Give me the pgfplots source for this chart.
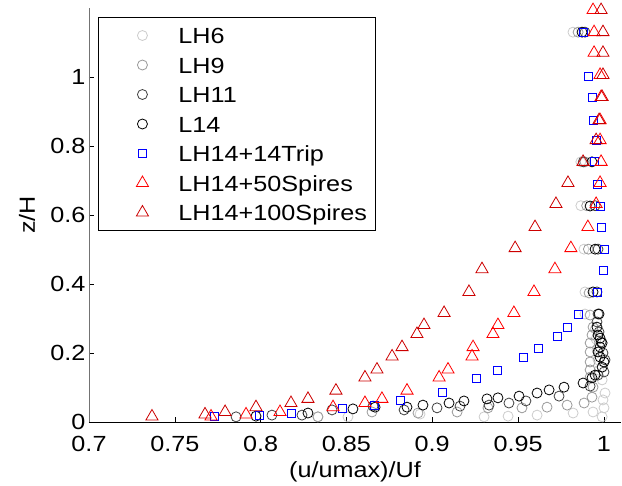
\documentclass[border=0pt]{standalone}
\usepackage{fontspec}
\setmainfont{Liberation Sans}[FakeStretch=1.15]
\usepackage{pgfplots}
\pgfplotsset{compat=1.18}
\definecolor{clhsix}{gray}{0.8}
\definecolor{clhnine}{gray}{0.6}
\definecolor{clheleven}{gray}{0.25}
\definecolor{cdarkred}{rgb}{0.8,0,0}
\pgfplotsset{myleg/.style={legend image code/.code={\path[draw=none] (0bp,0bp) -- (72bp,0bp); \draw[##1] plot coordinates {(36bp,0bp)};}}}

\begin{document}
\begin{tikzpicture}
\begin{axis}[
 scale only axis, width=532bp, height=414bp,
 xmin=0.7, xmax=1.01, ymin=0, ymax=1.2,
 axis x line*=bottom, axis y line*=left,
 x axis line style={black,line width=0.8bp},
 y axis line style={black!55,line width=0.8bp},
 xtick={0.7,0.75,0.8,0.85,0.9,0.95,1},
 ytick={0,0.2,0.4,0.6,0.8,1},
 tick align=inside, major tick length=5bp,
 tick style={black,line width=0.6bp},
 font=\fontsize{22}{26}\selectfont,
 /pgf/number format/assume math mode=true,
 xticklabel style={yshift=-11bp},
 xlabel={(u/umax)/Uf}, ylabel={z/H},
 xlabel style={at={(axis description cs:0.5,-0.12)}, anchor=center},
 ylabel style={at={(axis description cs:-0.1165,0.5)}, anchor=center},
 clip=false,
 legend style={at={(0.017,0.978)}, anchor=north west, draw=black, line width=0.8bp,
   font=\fontsize{22}{26}\selectfont, row sep=5.5bp, inner xsep=8bp, inner ysep=6bp,
   nodes={inner sep=0bp, text height=20bp, text depth=4bp}},
 legend cell align=left,
]
% LH6
\addplot[only marks, myleg, mark=o, mark size=5bp, clhsix, line width=0.8bp] coordinates {
(0.8334,0.015) (0.8509,0.015) (0.8929,0.023) (0.9302,0.015) (0.9442,0.017)
(0.9611,0.020) (0.9821,0.026) (0.9937,0.029) (0.9990,0.015) (1.0001,0.041)
(0.9995,0.064) (1.0007,0.084) (0.9990,0.122) (0.9972,0.150) (0.9966,0.180)
(0.9960,0.210) (0.9955,0.240) (0.9950,0.270) (0.9890,0.313) (0.9890,0.377)
(0.9884,0.501) (0.9866,0.627) (0.9866,0.754) (0.9820,1.130)};
\addlegendentry{LH6}
% LH9
\addplot[only marks, myleg, mark=o, mark size=5bp, clhnine, line width=0.8bp] coordinates {
(0.8334,0.015) (0.8649,0.029) (0.8917,0.026) (0.9145,0.029) (0.9325,0.041)
(0.9523,0.041) (0.9669,0.043) (0.9786,0.049) (0.9885,0.055) (0.9931,0.072)
(0.9937,0.101) (0.9920,0.130) (0.9920,0.151) (0.9920,0.174) (0.9920,0.203)
(0.9920,0.229) (0.9931,0.252) (0.9937,0.275) (0.9920,0.310) (0.9914,0.374)
(0.9910,0.501) (0.9900,0.627) (0.9890,0.754) (0.9850,1.130)};
\addlegendentry{LH9}
% LH11
\addplot[only marks, myleg, mark=o, mark size=5bp, clheleven, line width=0.8bp] coordinates {
(0.7857,0.015) (0.8066,0.020) (0.8241,0.020) (0.8416,0.035) (0.8655,0.046)
(0.8836,0.035) (0.9028,0.041) (0.9162,0.046) (0.9331,0.049) (0.9447,0.055)
(0.9546,0.061) (0.9739,0.075) (0.9920,0.104) (0.9966,0.136) (1.0001,0.145)
(1.0007,0.180) (0.9995,0.200) (0.9984,0.232) (0.9972,0.261) (0.9960,0.290)
(0.9966,0.313) (0.9960,0.377) (0.9966,0.501) (0.9949,0.627) (0.9880,0.754)
(0.9890,1.130)};
\addlegendentry{LH11}
% L14
\addplot[only marks, myleg, mark=o, mark size=5bp, black, line width=0.8bp] coordinates {
(0.7973,0.017) (0.8276,0.026) (0.8538,0.038) (0.8667,0.043) (0.8853,0.043)
(0.8946,0.049) (0.9098,0.055) (0.9185,0.061) (0.9319,0.067) (0.9383,0.070)
(0.9506,0.075) (0.9611,0.084) (0.9681,0.093) (0.9768,0.101) (0.9879,0.113)
(0.9931,0.128) (0.9949,0.136) (0.9990,0.159) (1.0001,0.174) (0.9978,0.188)
(0.9966,0.203) (0.9978,0.217) (0.9990,0.229) (0.9978,0.243) (0.9966,0.252)
(0.9960,0.275) (0.9972,0.313) (0.9937,0.377) (0.9949,0.501) (0.9920,0.626)
(0.9931,0.754) (0.9873,1.130)};
\addlegendentry{L14}
% LH14+14Trip
\addplot[only marks, myleg, mark=square, mark size=4bp, blue, line width=0.8bp] coordinates {
(0.7728,0.015) (0.7991,0.020) (0.8177,0.026) (0.8474,0.038) (0.8661,0.049)
(0.8812,0.064) (0.9057,0.087) (0.9255,0.125) (0.9378,0.151) (0.9529,0.188)
(0.9617,0.214) (0.9727,0.249) (0.9786,0.275) (0.9850,0.313) (0.9960,0.377)
(0.9995,0.438) (1.0001,0.501) (0.9984,0.565) (0.9978,0.626) (0.9960,0.690)
(0.9943,0.754) (0.9955,0.817) (0.9937,0.875) (0.9931,0.942) (0.9908,1.003)
(0.9879,1.130)};
\addlegendentry{LH14+14Trip}
% LH14+50Spires
\addplot[only marks, myleg, mark=triangle, mark size=7bp, red, line width=0.8bp] coordinates {
(0.7711,0.016) (0.7915,0.022) (0.8113,0.029) (0.8422,0.043) (0.8608,0.055)
(0.8707,0.067) (0.8853,0.091) (0.9040,0.129) (0.9092,0.152) (0.9232,0.190)
(0.9238,0.217) (0.9354,0.255) (0.9383,0.281) (0.9476,0.316) (0.9593,0.377)
(0.9715,0.443) (0.9808,0.504) (0.9907,0.565) (0.9955,0.632) (0.9978,0.693)
(0.9984,0.754) (0.9978,0.817) (0.9978,0.875) (0.9984,0.942) (0.9978,1.006)
(0.9943,1.070) (0.9943,1.130) (0.9937,1.194)};
\addlegendentry{LH14+50Spires}
% LH14+100Spires
\addplot[only marks, myleg, mark=triangle, mark size=7bp, cdarkred, line width=0.8bp] coordinates {
(0.7367,0.016) (0.7676,0.022) (0.7793,0.029) (0.7973,0.043) (0.8177,0.055)
(0.8276,0.067) (0.8439,0.091) (0.8608,0.129) (0.8678,0.152) (0.8766,0.190)
(0.8824,0.217) (0.8911,0.255) (0.8952,0.281) (0.9069,0.316) (0.9214,0.377)
(0.9290,0.443) (0.9483,0.504) (0.9599,0.565) (0.9721,0.632) (0.9791,0.693)
(0.9879,0.754) (0.9955,0.817) (0.9972,0.875) (0.9990,0.942) (0.9995,1.006)
(0.9995,1.070) (0.9995,1.130) (0.9984,1.194)};
\addlegendentry{LH14+100Spires}
\end{axis}
\path (current axis.south west) ++(-89bp,-64bp) rectangle ++(622bp,486bp);
\end{tikzpicture}
\end{document}
